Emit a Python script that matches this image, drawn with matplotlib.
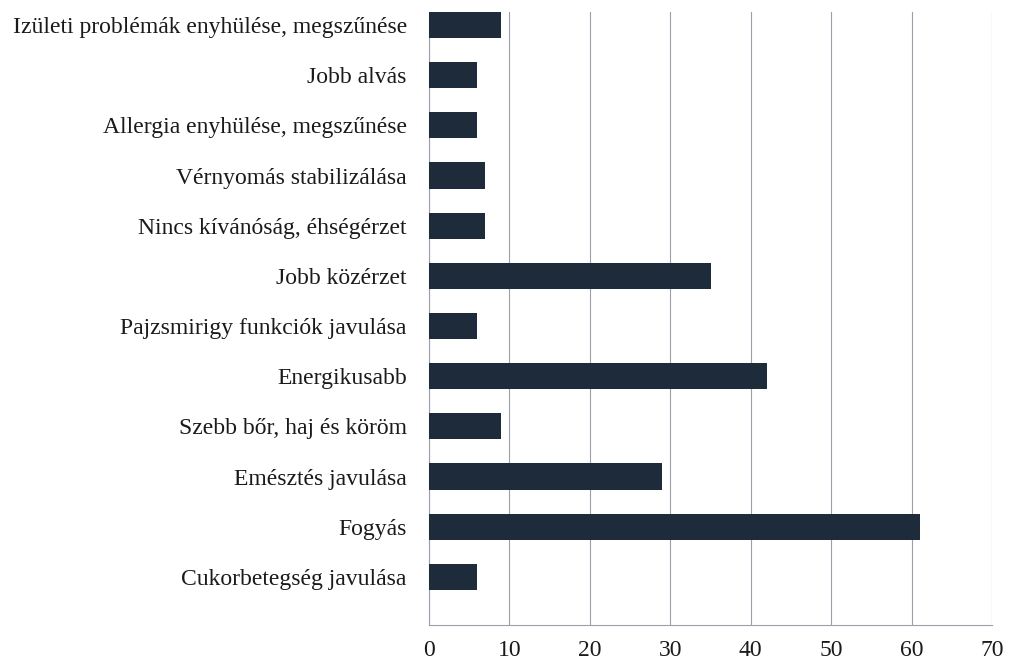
import matplotlib
matplotlib.use("Agg")
import matplotlib.pyplot as plt
import numpy as np

# categories top to bottom, as in the book figure
labels = ["Izületi problémák enyhülése, megszűnése",
          "Jobb alvás",
          "Allergia enyhülése, megszűnése",
          "Vérnyomás stabilizálása",
          "Nincs kívánóság, éhségérzet",
          "Jobb közérzet",
          "Pajzsmirigy funkciók javulása",
          "Energikusabb",
          "Szebb bőr, haj és köröm",
          "Emésztés javulása",
          "Fogyás",
          "Cukorbetegség javulása"]
values = [9, 6, 6, 7, 7, 35, 6, 42, 9, 29, 61, 6]
xticks = [0, 10, 20, 30, 40, 50, 60, 70]

plt.rcParams['font.family'] = ['Liberation Serif', 'DejaVu Serif']

fig = plt.figure(figsize=(10.14, 6.66), dpi=100)
ax = fig.add_axes([429/1014, 1-625/666, (992-429)/1014, (625-12)/666])

pos = np.arange(len(labels))
ax.barh(pos, values, height=0.52, color="#1d2b3b", zorder=3)

ax.set_xlim(0, 70)
ax.set_ylim(11.96, -0.26)
ax.set_xticks(xticks)
ax.set_xticklabels([str(t) for t in xticks], fontsize=17, color="#1a1a1a")
ax.set_yticks(pos)
ax.set_yticklabels(labels, fontsize=17, color="#1a1a1a")
ax.tick_params(axis="y", length=0, pad=16)
ax.tick_params(axis="x", length=0, pad=11)

ax.grid(axis="x", color="#9c9eaa", linewidth=0.8, zorder=0)
for s in ["top", "right"]:
    ax.spines[s].set_visible(False)
ax.spines["left"].set_color("#9c9eaa")
ax.spines["left"].set_linewidth(0.8)
ax.spines["bottom"].set_color("#9c9eaa")
ax.spines["bottom"].set_linewidth(0.8)

fig.savefig("out.png", dpi=100)
